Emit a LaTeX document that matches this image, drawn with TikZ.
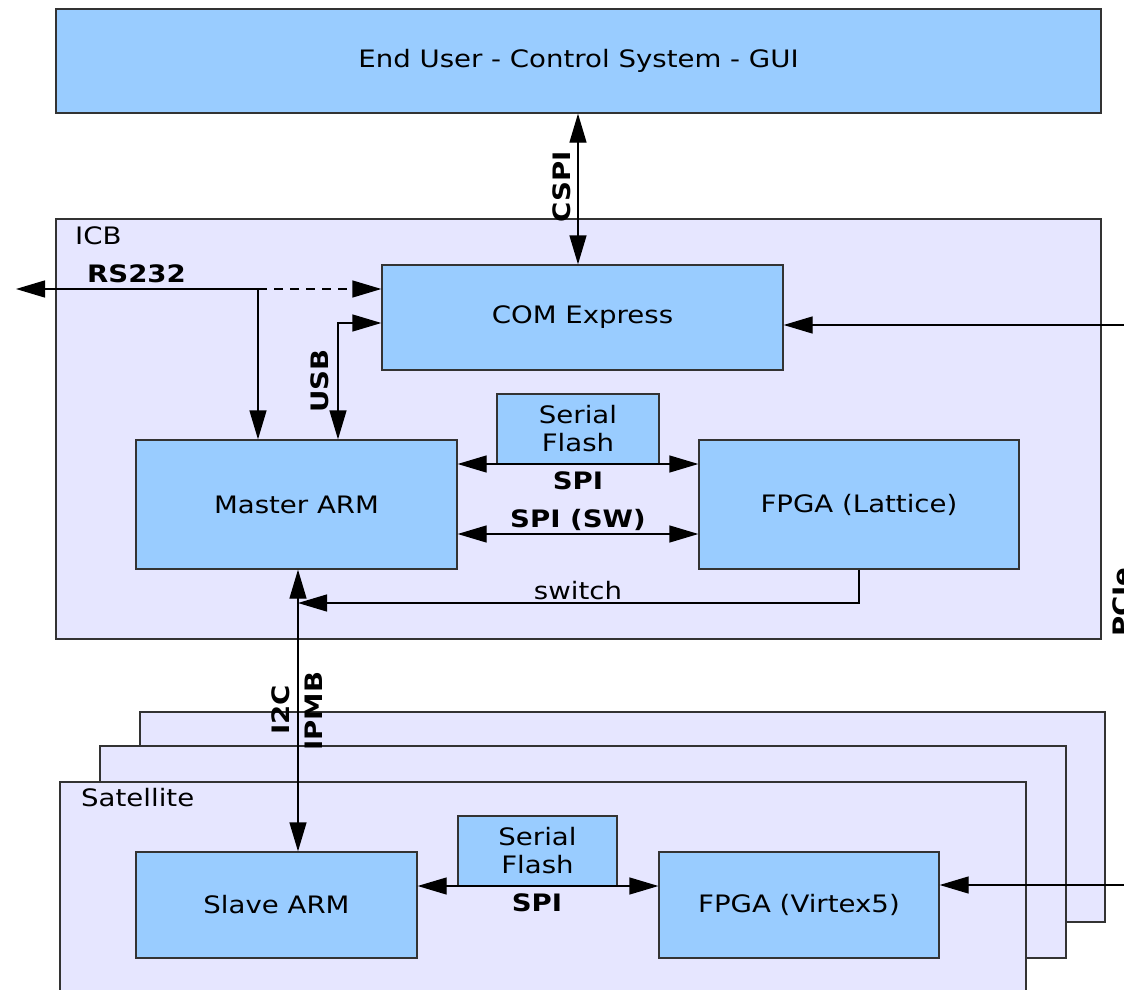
\documentclass[tikz,border=0pt]{standalone}
\usepackage{fontspec}
\setmainfont{DejaVu Sans}[FakeStretch=1.15]
\usetikzlibrary{arrows.meta}

\definecolor{blu}{HTML}{99CCFF}
\definecolor{lav}{HTML}{E6E6FF}
\definecolor{edge}{HTML}{333333}

\begin{document}
\begin{tikzpicture}[x=1pt,y=-1pt,
  >={Triangle[length=29pt,width=17pt]},
  blk/.style={draw=edge, fill=blu, line width=1.3pt, inner sep=0pt,
    font=\fontsize{24}{28}\selectfont, align=center},
  grp/.style={draw=edge, fill=lav, line width=1.3pt},
  grplbl/.style={font=\fontsize{24}{28}\selectfont, inner sep=0pt, anchor=west},
  lbl/.style={font=\bfseries\fontsize{24}{28}\selectfont, inner sep=0pt},
  plain/.style={font=\fontsize{24}{28}\selectfont, inner sep=0pt},
  wire/.style={line width=1.3pt, draw=black},
]
\useasboundingbox (0,0) rectangle (1124,990);
\clip (0,0) rectangle (1124,990);
\fill[white] (0,0) rectangle (1124,990);

% top level system
\node[blk, minimum width=1045pt, minimum height=104pt] (eu) at (578.5,61) {End User - Control System - GUI};

% ICB group
\draw[grp] (56,219) rectangle (1101,639);
\node[grplbl] (icblbl) at (75,236) {ICB};

\node[blk, minimum width=401pt, minimum height=105pt] (com) at (582.5,317.5) {COM Express};
\node[blk, minimum width=162pt, minimum height=70pt] (sf1) at (578,429) {Serial\\Flash};
\node[blk, minimum width=321pt, minimum height=129pt] (marm) at (296.5,504.5) {Master ARM};
\node[blk, minimum width=320pt, minimum height=129pt] (fpga1) at (859,504.5) {FPGA (Lattice)};

% stacked satellites
\draw[grp] (140,712) rectangle (1105,922);
\draw[grp] (100,746) rectangle (1066,958);
\draw[grp] (60,782) rectangle (1026,1010);
\node[grplbl] (satlbl) at (81,798) {Satellite};

\node[blk, minimum width=159pt, minimum height=70pt] (sf2) at (537.5,851) {Serial\\Flash};
\node[blk, minimum width=281pt, minimum height=106pt] (sarm) at (276.5,905) {Slave ARM};
\node[blk, minimum width=280pt, minimum height=106pt] (fpga2) at (799,905) {FPGA (Virtex5)};

% helper coordinates for connector routes
\coordinate (xc) at (578,0);
\coordinate (rsL) at (16,289);
\coordinate (rsJ) at (258,289);
\coordinate (usb) at (338,323);
\coordinate (spi1) at (0,464);
\coordinate (spisw) at (0,534);
\coordinate (swc) at (298,603);
\coordinate (spi2) at (0,886);
\coordinate (pcieA) at (1124,325);
\coordinate (pcieB) at (1124,885);

% CSPI
\draw[wire, <->] (eu.south -| xc) -- (com.north -| xc);
\node[lbl, rotate=90] (cspi) at (562,187) {CSPI};

% RS232
\draw[wire, ->] (rsJ) -- (rsL);
\draw[wire, ->, dash pattern=on 9pt off 7pt] (rsJ) -- (com.west |- rsJ);
\draw[wire, ->] (rsJ) -- (marm.north -| rsJ);
\node[lbl] (rslbl) at (136.5,274) {RS232};

% USB
\draw[wire, <->] (marm.north -| usb) |- (com.west |- usb);
\node[lbl, rotate=90] (usblbl) at (320,381) {USB};

% SPI links on the ICB
\draw[wire, <->] (marm.east |- spi1) -- (fpga1.west |- spi1);
\node[lbl] (spilbl) at (578,481) {SPI};
\draw[wire, <->] (marm.east |- spisw) -- (fpga1.west |- spisw);
\node[lbl] (spiswlbl) at (578,520) {SPI (SW)};

% switch
\draw[wire, ->] (fpga1.south) |- (swc);
\node[plain] (swlbl) at (578,591) {switch};

% I2C / IPMB
\draw[wire, <->] (marm.south -| swc) -- (sarm.north -| swc);
\node[lbl, rotate=90] (i2c) at (281,710) {I2C};
\node[lbl, rotate=90] (ipmb) at (314,711) {IPMB};

% SPI on the satellite
\draw[wire, <->] (sarm.east |- spi2) -- (fpga2.west |- spi2);
\node[lbl] (spi2lbl) at (537,903) {SPI};

% PCIe
\draw[wire, ->] (pcieA) -- (com.east |- pcieA);
\draw[wire, ->] (pcieB) -- (fpga2.east |- pcieB);
\node[lbl, rotate=90, anchor=base west] (pcielbl) at (1130,637) {PCIe};
\end{tikzpicture}
\end{document}
